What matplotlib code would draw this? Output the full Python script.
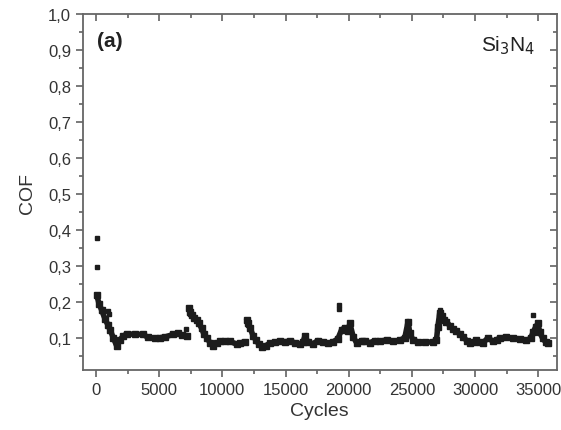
import numpy as np
import matplotlib
matplotlib.use("Agg")
import matplotlib.pyplot as plt
from matplotlib.ticker import MultipleLocator, FuncFormatter

plt.rcParams['font.family'] = ['Liberation Sans', 'DejaVu Sans']

# main COF trace (nan = break between running-in segments)
cycles = [55, 237, 451, 712, 950, 1107, 1368, 1637, 1898, 2136, 2428, 3085, 3718,
          4113, 4667, 5063, 5458, 6090, 6486, 6803, 7198, np.nan,
          7380, 7435, 7570, 7752, 7965, 8147, 8360, 8542, 8780, 9017, 9280, 9571,
          9808, 10204, 10600, 11129, 11390, 11786, np.nan,
          11920, 12047, 12181, 12442, 12656, 12893, 13131, 13447, 13763, 14159,
          14554, 14950, 15345, 15741, 16136, 16374, 16532, 16769, 17165, 17560,
          17956, 18351, 18747, 19142, 19435, 19696, 19957, 20092, 20353, 20622,
          21017, 21278, 21673, 22069, 22464, 22994, 23493, 24046, 24442, 24703,
          24837, 25075, 25470, 26024, 26657, 26950, 27053, 27210, 27369, 27527,
          27741, 28002, 28239, 28532, 28793, 29054, 29346, 29583, 29900, 30113,
          30374, 30612, 31031, 31403, 31719, 31956, 32486, 32984, 33538, 34068,
          34409, 34591, 34804, 34986, 35120, 35358, 35595, 35777]
cof = [0.218, 0.195, 0.176, 0.152, 0.135, 0.122, 0.100, 0.077, 0.093, 0.105, 0.110,
       0.110, 0.109, 0.101, 0.099, 0.100, 0.102, 0.109, 0.112, 0.107, 0.106, np.nan,
       0.183, 0.172, 0.162, 0.155, 0.150, 0.140, 0.126, 0.110, 0.100, 0.086, 0.076,
       0.084, 0.090, 0.091, 0.090, 0.082, 0.085, 0.089, np.nan,
       0.150, 0.140, 0.128, 0.105, 0.093, 0.082, 0.074, 0.078, 0.085, 0.087,
       0.090, 0.089, 0.090, 0.086, 0.083, 0.087, 0.104, 0.088, 0.083, 0.092,
       0.088, 0.084, 0.088, 0.097, 0.122, 0.128, 0.118, 0.140, 0.103, 0.086,
       0.092, 0.090, 0.086, 0.092, 0.090, 0.094, 0.090, 0.093, 0.100, 0.145,
       0.112, 0.095, 0.088, 0.088, 0.088, 0.095, 0.130, 0.170, 0.160, 0.150,
       0.145, 0.133, 0.125, 0.118, 0.110, 0.102, 0.092, 0.085, 0.088, 0.093,
       0.088, 0.085, 0.100, 0.090, 0.095, 0.098, 0.102, 0.098, 0.097, 0.093,
       0.098, 0.115, 0.130, 0.140, 0.115, 0.098, 0.088, 0.085]

# isolated points
out_cycles = [60, 70, 973, 1000, 7150, 7420, 12000, 19200, 19200, 27250, 34600]
out_cof = [0.378, 0.297, 0.173, 0.165, 0.124, 0.165, 0.135, 0.192, 0.180, 0.176, 0.162]

fig = plt.figure(figsize=(5.61, 4.31), dpi=100)
ax = fig.add_axes([0.148, 0.139, 0.844, 0.826])

ax.plot(cycles, cof, color='#1c1c1c', lw=4.0, solid_capstyle='round',
        solid_joinstyle='round', marker='s', ms=3.8, mec='#1c1c1c', mfc='#1c1c1c')
ax.plot(out_cycles, out_cof, 's', color='#1c1c1c', ms=3.5)

ax.set_xlim(-1030, 36450)
ax.set_ylim(0.01, 1.0)

ax.xaxis.set_major_locator(MultipleLocator(5000))
ax.xaxis.set_minor_locator(MultipleLocator(2500))
ax.yaxis.set_major_locator(MultipleLocator(0.1))
ax.yaxis.set_minor_locator(MultipleLocator(0.05))
ax.yaxis.set_major_formatter(FuncFormatter(lambda v, p: "{:.1f}".format(v).replace('.', ',')))

for s in ax.spines.values():
    s.set_color('#666666')
    s.set_linewidth(1.3)

ax.tick_params(which='both', colors='#555555', labelcolor='#333333', labelsize=12, width=1.1)
ax.tick_params(which='major', length=5)
ax.tick_params(which='minor', length=3)
ax.tick_params(axis='x', which='both', top=True, direction='out')
ax.tick_params(axis='y', which='both', right=True, direction='out')
# top and right ticks point inwards
for t in ax.xaxis.get_major_ticks() + ax.xaxis.get_minor_ticks():
    t.tick2line.set_marker(3)
for t in ax.yaxis.get_major_ticks() + ax.yaxis.get_minor_ticks():
    t.tick2line.set_marker(0)

ax.set_xlabel("Cycles", fontsize=14, color='#333333', labelpad=4)
ax.set_ylabel("COF", fontsize=14, color='#333333', labelpad=9)

ax.text(0.03, 0.925, "(a)", transform=ax.transAxes, fontsize=15, fontweight='bold',
        color='#222222', va='center', ha='left')
ax.text(0.955, 0.915, "Si$_3$N$_4$", transform=ax.transAxes, fontsize=15,
        color='#222222', va='center', ha='right')

fig.savefig("out.png", dpi=100)
